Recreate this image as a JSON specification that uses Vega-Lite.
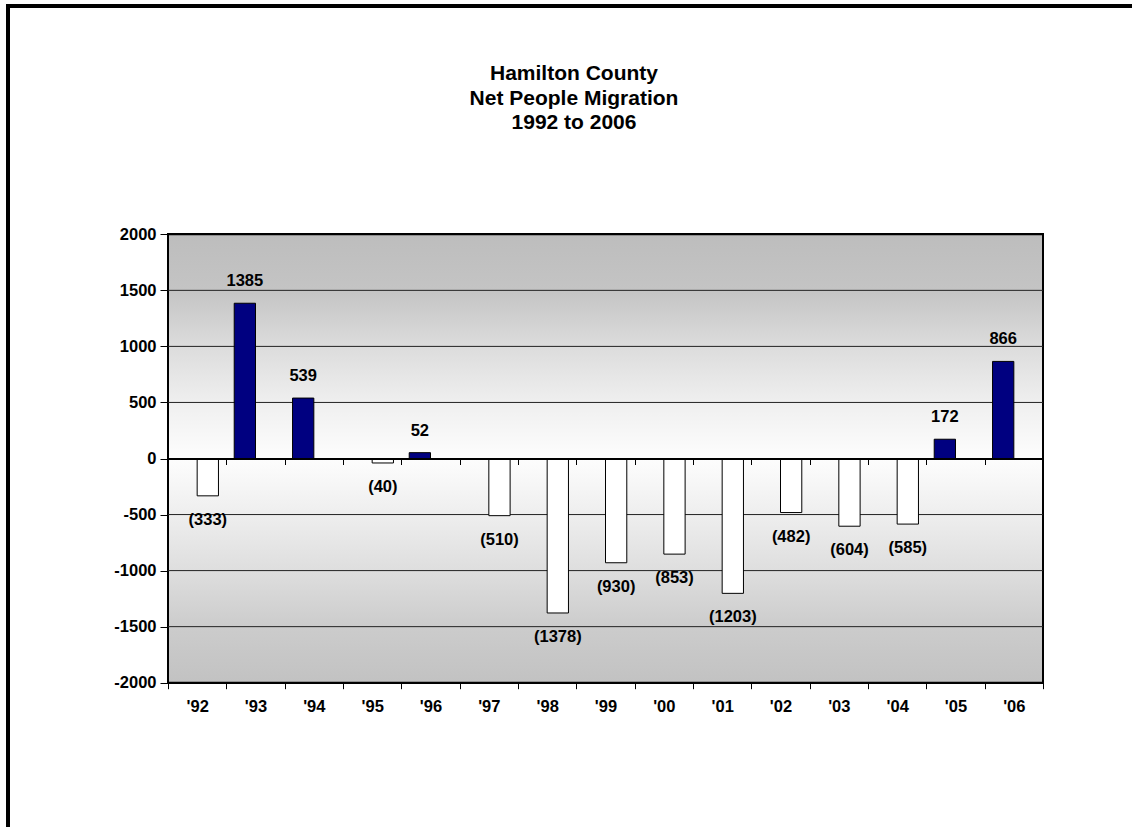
{
  "$schema": "https://vega.github.io/schema/vega-lite/v6.json",
  "width": 1132,
  "height": 830,
  "autosize": "none",
  "padding": {"left": 8, "top": 6, "right": 0, "bottom": 0},
  "background": "white",
  "config": {
    "view": {"stroke": "black", "strokeWidth": 4, "fill": "white"},
    "font": "Liberation Sans"
  },
  "title": {
    "text": ["Hamilton County", "Net People Migration", "1992 to 2006"],
    "font": "Liberation Sans",
    "fontSize": 21,
    "fontWeight": "bold",
    "color": "black",
    "lineHeight": 24.5,
    "anchor": "middle",
    "offset": -127
  },
  "data": {
    "values": [
      {"year": "'92", "value": -333, "series": "out"},
      {"year": "'93", "value": 1385, "series": "in"},
      {"year": "'94", "value": 539, "series": "in"},
      {"year": "'95", "value": -40, "series": "out"},
      {"year": "'96", "value": 52, "series": "in"},
      {"year": "'97", "value": -510, "series": "out"},
      {"year": "'98", "value": -1378, "series": "out"},
      {"year": "'99", "value": -930, "series": "out"},
      {"year": "'00", "value": -853, "series": "out"},
      {"year": "'01", "value": -1203, "series": "out"},
      {"year": "'02", "value": -482, "series": "out"},
      {"year": "'03", "value": -604, "series": "out"},
      {"year": "'04", "value": -585, "series": "out"},
      {"year": "'05", "value": 172, "series": "in"},
      {"year": "'06", "value": 866, "series": "in"}
    ]
  },
  "layer": [
    {
      "mark": {
        "type": "rect",
        "stroke": "black",
        "strokeWidth": 2,
        "fill": {
          "gradient": "linear",
          "x1": 0, "y1": 0, "x2": 0, "y2": 1,
          "stops": [
            {"offset": 0, "color": "#bdbdbd"},
            {"offset": 0.125, "color": "#c4c4c4"},
            {"offset": 0.25, "color": "#dcdcdc"},
            {"offset": 0.375, "color": "#efefef"},
            {"offset": 0.5, "color": "#fdfdfd"},
            {"offset": 0.625, "color": "#eeeeee"},
            {"offset": 0.75, "color": "#dedede"},
            {"offset": 0.875, "color": "#cccccc"},
            {"offset": 1, "color": "#c2c2c2"}
          ]
        }
      },
      "encoding": {
        "x": {"datum": "'92", "type": "nominal", "bandPosition": 0, "axis": null},
        "x2": {"datum": "'06", "bandPosition": 1},
        "y": {"datum": 2000, "type": "quantitative", "axis": null},
        "y2": {"datum": -2000}
      }
    },
    {
      "data": {"values": [{"gv": -1500}, {"gv": -1000}, {"gv": -500}, {"gv": 500}, {"gv": 1000}, {"gv": 1500}]},
      "mark": {"type": "rule", "color": "#222222", "strokeWidth": 1},
      "encoding": {
        "x": {"datum": "'92", "type": "nominal", "bandPosition": 0, "axis": null},
        "x2": {"datum": "'06", "bandPosition": 1},
        "y": {"field": "gv", "type": "quantitative", "axis": null}
      }
    },
    {
      "mark": {"type": "bar", "stroke": "black", "strokeWidth": 1},
      "encoding": {
        "x": {
          "field": "year",
          "type": "nominal",
          "sort": null,
          "scale": {
            "domain": ["'92", "'93", "'94", "'95", "'96", "'97", "'98", "'99", "'00", "'01", "'02", "'03", "'04", "'05", "'06"],
            "range": [160, 1035],
            "paddingInner": 0,
            "paddingOuter": 0
          },
          "axis": {
            "orient": "bottom",
            "offset": -153.3,
            "title": null,
            "domain": false,
            "grid": false,
            "tickBand": "extent",
            "ticks": true,
            "tickSize": 6,
            "tickColor": "black",
            "tickWidth": 1,
            "labelAngle": 0,
            "labelFont": "Liberation Sans",
            "labelFontSize": 16.5,
            "labelFontWeight": "bold",
            "labelColor": "black",
            "labelPadding": 10
          }
        },
        "xOffset": {
          "field": "series",
          "type": "nominal",
          "scale": {"domain": ["in", "out"], "paddingInner": 0, "paddingOuter": 0.37}
        },
        "y": {
          "field": "value",
          "type": "quantitative",
          "scale": {"domain": [-2000, 2000], "range": [676.7, 228.3], "nice": false, "zero": false},
          "axis": {
            "orient": "left",
            "offset": -160,
            "title": null,
            "values": [-2000, -1500, -1000, -500, 0, 500, 1000, 1500, 2000],
            "labelExpr": "'' + datum.value",
            "domain": false,
            "grid": false,
            "tickSize": 8,
            "tickColor": "black",
            "tickWidth": 1,
            "labelFont": "Liberation Sans",
            "labelFontSize": 16.5,
            "labelFontWeight": "bold",
            "labelColor": "black",
            "labelPadding": 4
          }
        },
        "fill": {
          "field": "series",
          "type": "nominal",
          "scale": {"domain": ["in", "out"], "range": ["#000080", "#ffffff"]},
          "legend": null
        }
      }
    },
    {
      "transform": [{"filter": "datum.value > 0"}],
      "mark": {"type": "text", "baseline": "alphabetic", "dy": -17, "fontSize": 16.5, "fontWeight": "bold", "font": "Liberation Sans", "color": "black"},
      "encoding": {
        "x": {
          "field": "year",
          "type": "nominal",
          "axis": {
            "orient": "bottom",
            "offset": -377.5,
            "title": null,
            "labels": false,
            "grid": false,
            "domain": true,
            "domainColor": "black",
            "domainWidth": 2,
            "tickBand": "extent",
            "ticks": true,
            "tickSize": 6,
            "tickColor": "black",
            "tickWidth": 1,
            "zindex": 1
          }
        },
        "xOffset": {"field": "series", "type": "nominal"},
        "y": {"field": "value", "type": "quantitative", "axis": null},
        "text": {"field": "value", "type": "quantitative", "format": "(d"}
      }
    },
    {
      "transform": [{"filter": "datum.value < 0"}],
      "mark": {"type": "text", "baseline": "alphabetic", "dy": 29, "fontSize": 16.5, "fontWeight": "bold", "font": "Liberation Sans", "color": "black"},
      "encoding": {
        "x": {"field": "year", "type": "nominal", "axis": null},
        "xOffset": {"field": "series", "type": "nominal"},
        "y": {"field": "value", "type": "quantitative", "axis": null},
        "text": {"field": "value", "type": "quantitative", "format": "(d"}
      }
    }
  ],
  "resolve": {"axis": {"x": "independent", "y": "independent"}}
}
